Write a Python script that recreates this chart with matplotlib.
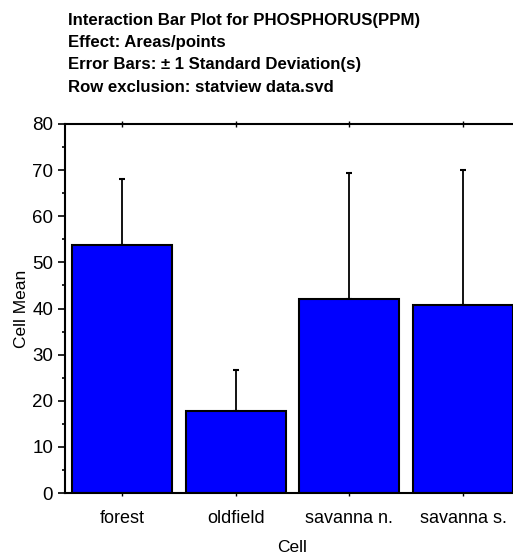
import matplotlib
matplotlib.use("Agg")
import matplotlib.pyplot as plt
from matplotlib.ticker import MultipleLocator
import numpy as np

categories = ["forest", "oldfield", "savanna n.", "savanna s."]
means = [53.8, 17.8, 42.1, 40.8]
sds = [14.2, 8.8, 27.2, 29.3]
yticks = [0, 10, 20, 30, 40, 50, 60, 70, 80]
title_lines = [
    "Interaction Bar Plot for PHOSPHORUS(PPM)",
    "Effect: Areas/points",
    "Error Bars: \u00b1 1 Standard Deviation(s)",
    "Row exclusion: statview data.svd",
]

FONT = ["Liberation Sans Narrow", "Liberation Sans", "DejaVu Sans"]
plt.rcParams["font.family"] = FONT

W, H = 513, 554
fig = plt.figure(figsize=(W / 100, H / 100), dpi=100)
left, right, top, bottom = 65, 520, 124, 493
ax = fig.add_axes([left / W, 1 - bottom / H, (right - left) / W, (bottom - top) / H])

x = np.arange(len(categories))
ax.bar(x, means, width=0.88, color="#0000ff", edgecolor="black", linewidth=1.5, zorder=2)
ax.errorbar(x, means, yerr=[np.zeros(len(sds)), sds], fmt="none", ecolor="black",
            elinewidth=1.3, capsize=2.2, capthick=1.5, zorder=1)

ax.set_xlim(-0.5, 3.5)
ax.set_ylim(0, 80)
ax.set_xticks(x)
ax.set_xticklabels(categories, fontsize=13)
ax.set_yticks(yticks)
ax.set_yticklabels([str(v) for v in yticks], fontsize=13.5)
ax.yaxis.set_minor_locator(MultipleLocator(5))
ax.tick_params(axis="y", which="major", direction="out", length=5, width=1.2)
ax.tick_params(axis="y", which="minor", direction="out", length=2, width=1.2)
ax.tick_params(axis="x", which="major", direction="inout", length=5, width=1, top=True, pad=10)
for s in ["left", "bottom", "top"]:
    ax.spines[s].set_linewidth(1.5)
ax.spines["right"].set_visible(False)

ax.set_ylabel("Cell Mean", fontsize=12.5, labelpad=2)
ax.set_xlabel("Cell", fontsize=12.5, labelpad=9)

ys = [21, 43, 65, 87]
for t, yy in zip(title_lines, ys):
    fig.text(68 / W, 1 - yy / H, t, fontsize=12.1, fontweight="bold", va="center", ha="left")

fig.savefig("out.png", dpi=100)
